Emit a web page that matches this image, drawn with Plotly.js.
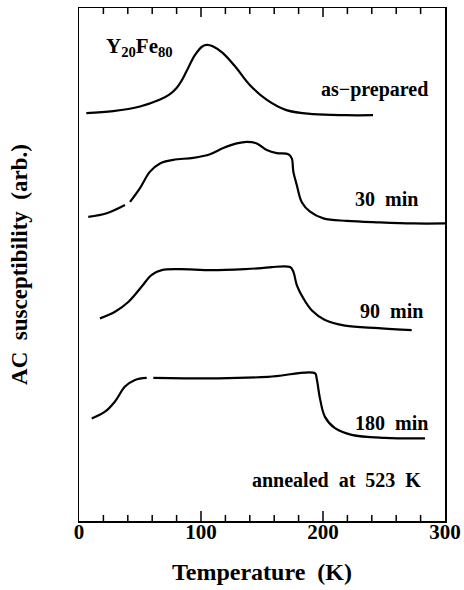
<!DOCTYPE html>
<html>
<head>
<meta charset="utf-8">
<script src="https://cdn.plot.ly/plotly-3.0.1.min.js"></script>
<style>html,body{margin:0;padding:0;background:#fff;}#chart{width:464px;height:590px;}</style>
</head>
<body>
<div id="chart"></div>
<script>
// Temperature (K) and AC susceptibility (arb., curves offset vertically)
const asPrepT = [6, 28, 50, 66, 74, 80, 84, 88, 95, 101, 105, 110, 118, 129, 140, 154, 170, 192, 219, 241];
const asPrepY = [79.5, 79.9, 80.8, 82.1, 83.1, 84.4, 85.8, 87.6, 90.8, 92.5, 92.8, 92.5, 91.2, 88.3, 85.0, 82.1, 80.1, 79.3, 79.1, 79.1];

const min30T = [7.6, 22.7, 37.7, 40, 41.8, 50.0, 58.2, 66.4, 77.3, 93.7, 107.4, 118.3, 129.3, 137.5, 145.7, 153.9, 162.1, 171.6, 174.4, 175.7, 178.5, 182.5, 189.4, 200.3, 219.4, 246.7, 274.0, 300];
const min30Y = [59.3, 60.0, 61.6, null, 62.2, 64.9, 68.1, 69.7, 70.4, 70.8, 71.5, 72.7, 73.6, 73.9, 73.6, 72.3, 71.7, 71.5, 70.7, 68.1, 65.5, 62.2, 60.3, 59.0, 58.5, 58.2, 58.0, 58.0];

const min90T = [17.2, 29.5, 40.4, 51.4, 59.6, 67.8, 81.4, 108.8, 136.1, 149.8, 158.0, 173.0, 175.7, 178.5, 183.9, 190.7, 201.6, 218.0, 245.3, 272.7];
const min90Y = [39.5, 40.8, 42.7, 45.7, 48.0, 48.9, 49.1, 48.9, 49.1, 49.3, 49.5, 49.5, 48.6, 46.0, 43.4, 41.1, 39.2, 38.1, 37.6, 37.2];

const min180T = [10.4, 21.3, 29.5, 37.7, 45.9, 55.5, 58, 60.9, 114.2, 155.2, 193.4, 194.8, 197.5, 201.6, 209.8, 223.5, 250.8, 283.6];
const min180Y = [20.0, 21.3, 23.3, 26.2, 27.5, 27.9, null, 27.9, 27.8, 28.1, 28.8, 27.8, 23.9, 20.3, 18.1, 16.8, 16.2, 16.1];

const labelText = ["Y<sub>20</sub>Fe<sub>80</sub>", "as\u2212prepared", "30\u00a0\u00a0min", "90\u00a0\u00a0min", "180\u00a0\u00a0min", "annealed\u00a0\u00a0at\u00a0\u00a0523\u00a0\u00a0K"];
const labelT = [49.2, 287.7, 279.5, 283.6, 287.7, 282.0];
const labelY = [92.4, 84.2, 62.8, 40.9, 19.1, 8.0];
const labelAnchor = ["center", "right", "right", "right", "right", "right"];
const labelSize = [21, 20, 20, 20, 20, 20];

const xRange = [0, 300];
const yRange = [0, 100];
const majorStep = 100;
const minorStep = 20;

const serif = "Liberation Serif, Times New Roman, serif";
const lineStyle = {color: "black", width: 2.2};

const traces = [
  {x: asPrepT, y: asPrepY, name: "as-prepared"},
  {x: min30T, y: min30Y, name: "30 min"},
  {x: min90T, y: min90Y, name: "90 min"},
  {x: min180T, y: min180Y, name: "180 min"}
].map(t => Object.assign(t, {type: "scatter", mode: "lines", line: Object.assign({shape: "spline", smoothing: 1}, lineStyle), connectgaps: false, hoverinfo: "skip"}));

// inward tick marks on bottom and top of the frame (axis decoration, built from the axis range and steps)
const plotH = 513;
const unitsPerPx = (yRange[1] - yRange[0]) / plotH;
const tickX = [], tickY = [];
for (let v = xRange[0] + minorStep; v < xRange[1]; v += minorStep) {
  const isMajor = v % majorStep === 0;
  const bLen = (isMajor ? 10 : 6) * unitsPerPx;
  const tLen = (isMajor ? 9 : 6) * unitsPerPx;
  tickX.push(v, v, null, v, v, null);
  tickY.push(yRange[0], yRange[0] + bLen, null, yRange[1], yRange[1] - tLen, null);
}
traces.push({type: "scatter", mode: "lines", x: tickX, y: tickY, line: {color: "black", width: 1.5}, connectgaps: false, hoverinfo: "skip", showlegend: false, name: "ticks"});

const annotations = labelText.map((txt, i) => ({
  x: labelT[i], y: labelY[i], xref: "x", yref: "y",
  text: txt, showarrow: false, xanchor: labelAnchor[i], yanchor: "middle",
  font: {family: serif, size: labelSize[i], color: "black", weight: "bold"}
}));

const layout = {
  width: 464, height: 590,
  margin: {l: 79, r: 19, t: 8, b: 69},
  paper_bgcolor: "white", plot_bgcolor: "white",
  showlegend: false,
  xaxis: {
    range: xRange, tickmode: "linear", tick0: 0, dtick: majorStep,
    ticks: "", ticklabelstandoff: -9,
    showline: true, linecolor: "black", linewidth: 1.5, mirror: true,
    showgrid: false, zeroline: false,
    tickfont: {family: serif, size: 21, color: "black", weight: "bold"},
    title: {text: "Temperature\u00a0\u00a0(K)", font: {family: serif, size: 24, color: "black", weight: "bold"}, standoff: 20}
  },
  yaxis: {
    range: yRange, showticklabels: false, ticks: "",
    showline: true, linecolor: "black", linewidth: 1.5, mirror: true,
    showgrid: false, zeroline: false,
    title: {text: "AC\u00a0\u00a0susceptibility\u00a0\u00a0(arb.)", font: {family: serif, size: 23, color: "black", weight: "bold"}, standoff: 43}
  },
  annotations: annotations
};

Plotly.newPlot("chart", traces, layout, {displayModeBar: false, staticPlot: true});
</script>
</body>
</html>
